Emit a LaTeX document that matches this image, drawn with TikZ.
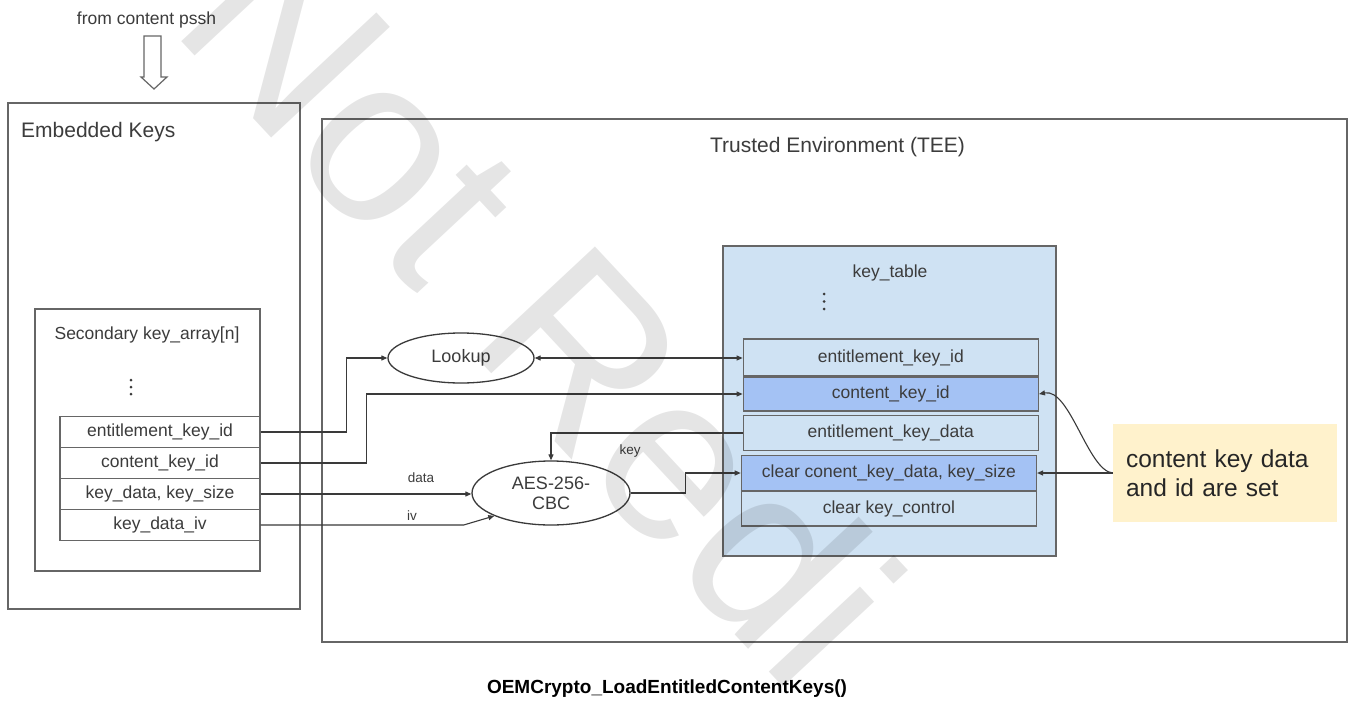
\documentclass[tikz,border=0pt]{standalone}
\usepackage{fontspec}
\setmainfont{Liberation Sans}
\usetikzlibrary{arrows.meta,shapes.geometric,calc}
\definecolor{bord}{HTML}{666666}
\definecolor{conn}{HTML}{3A3A3A}
\definecolor{tbl}{HTML}{CFE2F3}
\definecolor{tbldark}{HTML}{A4C2F4}
\definecolor{notefill}{HTML}{FFF2CC}
\definecolor{txt}{HTML}{3C3C3C}
\begin{document}
\begin{tikzpicture}[x=1pt,y=-1pt,
  frame/.style={draw=bord,line width=1.4pt,inner sep=0pt},
  lbl/.style={text=txt,inner sep=0pt,font=\fontsize{17.5}{17.5}\selectfont},
  big/.style={text=txt,inner sep=0pt,font=\fontsize{21}{21}\selectfont},
  small/.style={text=txt,inner sep=0pt,font=\fontsize{13.5}{13.5}\selectfont},
  srow/.style={draw=bord,line width=1.4pt,fill=white,inner sep=0pt,minimum width=200pt,minimum height=31pt,text height=13pt,text depth=4pt,text=txt,font=\fontsize{17.5}{17.5}\selectfont},
  krow/.style={draw=bord,line width=1.4pt,fill=tbl,inner sep=0pt,minimum width=295pt,text height=13pt,text depth=4pt,text=txt,font=\fontsize{17.5}{17.5}\selectfont},
  kdark/.style={krow,fill=tbldark},
  oval/.style={ellipse,draw=conn,line width=1.3pt,fill=white,inner sep=0pt,text=txt,font=\fontsize{18}{20}\selectfont,align=center},
  conn/.style={draw=conn,line width=1.1pt},
  tip/.style={-{Triangle[length=6pt,width=5pt]}},
  dot/.style={fill=conn,draw=none,circle,inner sep=0pt,minimum size=3pt},
  wmark/.style={rotate=-47,anchor=base west,inner sep=0pt,text=black,text opacity=0.1,font=\fontsize{236}{236}\selectfont}
]
\useasboundingbox (0,0) rectangle (1349,701);
\fill[white] (0,0) rectangle (1349,701);

% top label and hollow arrow
\node[lbl,anchor=base] (pssh) at (146.5,25) {from content pssh};
\draw[draw=bord,line width=1.2pt,fill=white] (144,36) -- (161,36) -- (161,77) -- (167,77) -- (154,89) -- (141,77) -- (144,77) -- cycle;

% Embedded keys
\node[frame,minimum width=292pt,minimum height=506pt] (emb) at (154,356) {};
\node[big,anchor=base west] (embl) at (21,137) {Embedded Keys};

% Secondary key array
\node[frame,minimum width=225pt,minimum height=262pt] (sec) at (147.5,440) {};
\node[lbl,anchor=base] (secl) at (147,339) {Secondary key\_array[n]};
\node[dot] (sd1) at (131,380) {};
\node[dot] (sd2) at (131,387) {};
\node[dot] (sd3) at (131,394) {};
\node[srow] (s1) at (160,432) {entitlement\_key\_id};
\node[srow] (s2) at (160,463) {content\_key\_id};
\node[srow] (s3) at (160,494) {key\_data, key\_size};
\node[srow] (s4) at (160,525) {key\_data\_iv};

% TEE
\node[frame,minimum width=1025pt,minimum height=523pt] (tee) at (834.5,380.5) {};
\node[big,anchor=base] (teel) at (837.5,152) {Trusted Environment (TEE)};

% key table
\node[draw=bord,line width=1.4pt,fill=tbl,inner sep=0pt,minimum width=333pt,minimum height=310pt] (kt) at (889.5,401) {};
\node[lbl,anchor=base] (ktl) at (890,277) {key\_table};
\node[dot] (kd1) at (824,294) {};
\node[dot] (kd2) at (824,301.5) {};
\node[dot] (kd3) at (824,309) {};
\node[krow,minimum height=37pt] (k1) at (890.8,357.5) {entitlement\_key\_id};
\node[kdark,minimum height=34pt] (k2) at (890.8,394) {content\_key\_id};
\node[krow,minimum height=35pt] (k3) at (890.8,433) {entitlement\_key\_data};
\node[kdark,minimum height=35pt] (k4) at (888.9,473) {clear conent\_key\_data, key\_size};
\node[krow,minimum height=35pt] (k5) at (888.9,508.5) {clear key\_control};

% ellipses
\node[oval,minimum width=146pt,minimum height=50pt] (lookup) at (461,358) {Lookup};
\node[oval,minimum width=158pt,minimum height=64pt] (aes) at (551,493) {AES-256-\\CBC};

% small labels
\node[small] (datal) at (421,478) {data};
\node[small] (keyl) at (630,451) {key};
\node[small] (ivl) at (412,516) {iv};

% note
\node[fill=notefill,minimum width=224pt,minimum height=98pt,inner xsep=13pt,inner ysep=0pt,text width=198pt,align=left,text=black!85,font=\fontsize{24.5}{29}\selectfont] (note) at (1225,473) {content key data\\and id are set};

% connectors
\draw[conn,tip] (s1.east) -- ++(86,0) |- (lookup.west);
\draw[conn,tip] (s2.east) -- ++(106,0) |- (k2.west);
\draw[conn,tip] (s3.east) -- (s3.east -| aes.west);
\draw[conn,tip] (s4.east) -- ++(203,0) -- (aes.202);
\draw[conn,{Triangle[length=6pt,width=5pt]}-{Triangle[length=6pt,width=5pt]}] (lookup.east) -- (lookup.east -| k1.west);
\draw[conn,tip] (k3.west) -| (aes.north);
\draw[conn,tip] (aes.east) -- ++(55,0) |- (k4.west);
\draw[conn,tip] (note.west) -- (k4.east);
\draw[conn,tip] (note.west) .. controls (1088,471) and (1070,388) .. (k2.east);

% title
\node[anchor=base,inner sep=0pt,font=\bfseries\fontsize{19}{19}\selectfont] (title) at (667,693) {OEMCrypto\_LoadEntitledContentKeys()};

% watermark
\begin{scope}
\clip (0,0) rectangle (1349,701);
\coordinate (wmb) at (168,27);
\node[wmark] (w1) at (wmb) {N};
\node[wmark] (w2) at ($(wmb)+(47:170.4)$) {o};
\node[wmark] (w3) at ($(wmb)+(47:301.6)$) {t};
\node[wmark] (w4) at ($(wmb)+(47:432.8)$) {R};
\node[wmark] (w5) at ($(wmb)+(47:603.2)$) {e};
\node[wmark] (w6) at ($(wmb)+(47:734.4)$) {d};
\node[wmark] (w7) at ($(wmb)+(47:865.6)$) {i};
\end{scope}
\end{tikzpicture}
\end{document}
